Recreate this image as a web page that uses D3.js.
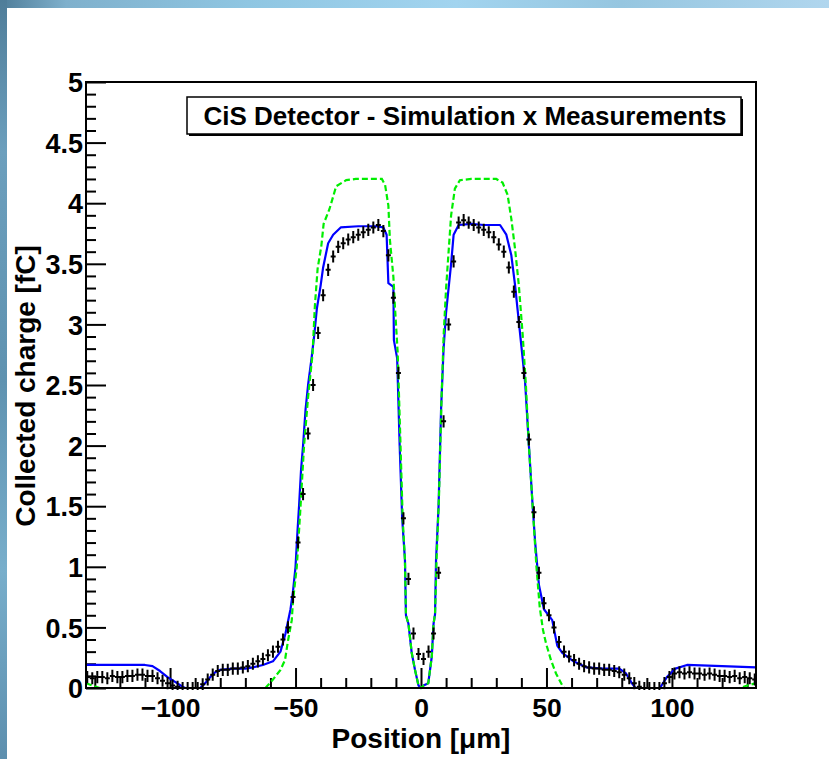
<!DOCTYPE html>
<html>
<head>
<meta charset="utf-8">
<script src="https://cdn.jsdelivr.net/npm/d3@7"></script>
<style>
  html, body { margin: 0; padding: 0; background: #fff; }
  svg { display: block; }
</style>
</head>
<body>
<svg id="chart" width="829" height="759"></svg>
<script>
// ---------------- DATA ----------------
const titleText = "CiS Detector - Simulation x Measurements";
const xTitle = "Position [\u03bcm]";
const yTitle = "Collected charge [fC]";
const xDomain = [-133.5, 133.5];
const yDomain = [0, 5];
const xTickLabels = [-100, -50, 0, 50, 100];
const yTickLabels = [0, 0.5, 1, 1.5, 2, 2.5, 3, 3.5, 4, 4.5, 5];

// Simulation (blue, solid)
const blueX = [-133.5,-120,-110,-107,-104,-101,-98,-95,-94,-88,-86,-84,-82,-80,-75,-70,-67,-63,-59,-56,-54,-52,-51,-50,-49.2,-48.6,-47.8,-47,-46,-45,-43.5,-42.5,-41.5,-40,-39,-37,-35,-32,-25,-18,-15,-13.7,-13,-11,-10.8,-9.5,-8.5,-7.5,-6.4,-6,-5,-3.7,-2.4,-1,0,1,2.9,4.3,5,5.6,6,7,8,9,10,11,12,13,15,20,25,31.5,34,36,37.5,38.5,40,41.5,43,44.5,45.5,47,49,52.3,54.3,56.3,60.8,66,72.5,79,81.7,84,85.5,95.2,98,101.4,106,120,133.5];
const blueY = [0.19,0.19,0.19,0.18,0.14,0.09,0.05,0.01,0,0,0.04,0.09,0.13,0.15,0.16,0.16,0.17,0.19,0.22,0.3,0.45,0.65,0.8,1.0,1.3,1.5,1.8,2.0,2.3,2.5,2.74,2.92,3.13,3.32,3.47,3.67,3.74,3.8,3.81,3.81,3.8,3.74,3.34,3.31,2.87,2.72,2.0,1.4,1.06,0.6,0.53,0.29,0.15,0.02,0,0.02,0.04,0.26,0.53,0.61,1.06,1.5,2.3,2.8,3.1,3.3,3.5,3.74,3.82,3.83,3.82,3.82,3.74,3.57,3.32,3.12,2.82,2.52,2.0,1.5,1.2,0.85,0.65,0.56,0.35,0.29,0.22,0.17,0.16,0.16,0.12,0.04,0,0,0.09,0.16,0.19,0.18,0.17];

// Simulation (green, dashed)
const greenX = [-133.5,-131,-128,-62,-59,-56,-54.2,-53,-51.5,-51,-49.5,-48,-46.6,-45,-43.2,-42.3,-41.2,-39.7,-38.8,-36.5,-33.8,-29.8,-26,-18,-15.6,-14.3,-13,-12.4,-11,-10.4,-9.3,-8.3,-7.3,-6.4,-6,-5,-3.7,-2.4,-1,0,1,2.9,4.3,5,5.6,6.2,7.2,8.2,9,10,11,12,13.5,15.5,20,30,32.5,34.5,36,37.5,39,40.5,41.8,43,44.5,46,47.3,48.6,49.8,51.8,53.8,56.6,57,127,130,133.5];
const greenY = [0.04,0.02,0,0,0.07,0.15,0.23,0.39,0.56,0.72,1.0,1.5,2.0,2.4,2.76,3.15,3.46,3.65,3.83,3.95,4.14,4.19,4.2,4.2,4.2,4.15,3.98,3.7,3.39,3.15,2.77,2.1,1.4,1.06,0.6,0.53,0.29,0.15,0.02,0,0.02,0.04,0.26,0.53,0.61,1.06,1.6,2.4,2.9,3.3,3.6,3.9,4.12,4.19,4.2,4.2,4.17,4.07,3.87,3.62,3.32,2.92,2.5,2.0,1.5,1.0,0.67,0.48,0.37,0.23,0.12,0.01,0,0,0.02,0.04];

// Measurement (black points with error bars)
const measX = [-133,-131,-129,-127,-125,-123,-121,-119,-117,-115,-113,-111,-109,-107,-105,-103,-101,-99,-97,-95,-93,-91,-89,-87,-85,-83,-81,-79,-77,-75,-73,-71,-69,-67,-65,-63,-61,-59,-57,-55,-53,-51,-49,-47,-45,-43,-41,-39,-37,-35,-33,-31,-29,-27,-25,-23,-21,-19,-17,-15,-13,-11,-9,-7,-5,-3,-1,1,3,5,7,9,11,13,15,17,19,21,23,25,27,29,31,33,35,37,39,41,43,45,47,49,51,53,55,57,59,61,63,65,67,69,71,73,75,77,79,81,83,85,87,89,91,93,95,97,99,101,103,105,107,109,111,113,115,117,119,121,123,125,127,129,131,133];
const measY = [0.09,0.08,0.09,0.09,0.08,0.1,0.09,0.09,0.1,0.1,0.11,0.11,0.1,0.1,0.08,0.06,0.04,0.02,0.01,0,0,0,0,0.03,0.07,0.11,0.14,0.15,0.15,0.16,0.16,0.17,0.18,0.2,0.22,0.24,0.27,0.3,0.34,0.4,0.5,0.75,1.2,1.6,2.1,2.5,2.93,3.24,3.45,3.56,3.64,3.67,3.7,3.72,3.74,3.76,3.78,3.8,3.82,3.77,3.57,3.22,2.6,1.4,0.9,0.45,0.28,0.24,0.3,0.45,0.95,2.2,3.0,3.52,3.84,3.86,3.84,3.82,3.8,3.78,3.76,3.72,3.66,3.6,3.47,3.27,3.02,2.6,2.05,1.45,0.95,0.7,0.6,0.5,0.38,0.3,0.26,0.23,0.2,0.18,0.17,0.16,0.16,0.15,0.15,0.14,0.13,0.11,0.08,0.04,0.01,0,0,0,0,0.04,0.09,0.12,0.13,0.12,0.13,0.12,0.12,0.11,0.12,0.11,0.1,0.1,0.09,0.1,0.08,0.09,0.08,0.07];
const measErrY = 0.05;
const measErrX = 1;

// ---------------- LAYOUT ----------------
const W = 829, H = 759;
const plot = { left: 86, right: 756, top: 82, bottom: 688 };
const svg = d3.select("#chart");
const FONT = "'Liberation Sans', Arial, Helvetica, sans-serif";

// background with bluish slide edges
const defs = svg.append("defs");
const gTop = defs.append("linearGradient").attr("id", "gTop").attr("x1", "0").attr("x2", "1").attr("y1", "0").attr("y2", "0");
[["0", "#4f7d99"], ["0.08", "#7fb0cc"], ["0.3", "#8fc6e2"], ["0.55", "#a2d4ef"], ["0.75", "#96c6e0"], ["1", "#b0d6ee"]]
  .forEach(([o, c]) => gTop.append("stop").attr("offset", o).attr("stop-color", c));
const gLeft = defs.append("linearGradient").attr("id", "gLeft").attr("x1", "0").attr("x2", "0").attr("y1", "0").attr("y2", "1");
[["0", "#4f7d99"], ["0.2", "#6c9fbd"], ["0.5", "#5f92b0"], ["0.75", "#78aecb"], ["1", "#5d8fae"]]
  .forEach(([o, c]) => gLeft.append("stop").attr("offset", o).attr("stop-color", c));
svg.append("rect").attr("width", W).attr("height", H).attr("fill", "#ffffff");
svg.append("rect").attr("x", 0).attr("y", 0).attr("width", W).attr("height", 8).attr("fill", "url(#gTop)");
svg.append("rect").attr("x", 0).attr("y", 0).attr("width", 7).attr("height", H).attr("fill", "url(#gLeft)");

defs.append("clipPath").attr("id", "clip").append("rect")
  .attr("x", plot.left).attr("y", plot.top - 2)
  .attr("width", plot.right - plot.left).attr("height", plot.bottom - plot.top + 4);

const x = d3.scaleLinear().domain(xDomain).range([plot.left, plot.right]);
const y = d3.scaleLinear().domain(yDomain).range([plot.bottom, plot.top]);

// ---------------- AXES ----------------
// x axis: minor ticks every 10, major every 50
const xMinor = d3.range(-130, 131, 10).filter(v => !xTickLabels.includes(v));
const xAxisMinor = d3.axisBottom(x).tickValues(xMinor).tickSize(-10).tickFormat("");
const xAxisMajor = d3.axisBottom(x).tickValues(xTickLabels).tickSize(-20).tickFormat(d3.format("d"));
const gxm = svg.append("g").attr("transform", `translate(0,${plot.bottom})`).call(xAxisMinor);
const gx = svg.append("g").attr("transform", `translate(0,${plot.bottom})`).call(xAxisMajor);
[gxm, gx].forEach(g => {
  g.select(".domain").remove();
  g.selectAll(".tick line").attr("stroke", "#000").attr("stroke-width", 2);
});
gx.selectAll(".tick text")
  .attr("font-family", FONT).attr("font-weight", "bold").attr("font-size", 26.5).attr("fill", "#000")
  .attr("y", 10).attr("dy", "0.71em");

// y axis: minor every 0.1, major every 0.5
const yMinor = d3.range(0, 50).map(i => i / 10).filter(v => Math.abs(v * 2 - Math.round(v * 2)) > 1e-6);
const yAxisMinor = d3.axisLeft(y).tickValues(yMinor).tickSize(-10).tickFormat("");
const yAxisMajor = d3.axisLeft(y).tickValues(yTickLabels).tickSize(-20).tickFormat(d => d3.format("")(d));
const gym = svg.append("g").attr("transform", `translate(${plot.left},0)`).call(yAxisMinor);
const gy = svg.append("g").attr("transform", `translate(${plot.left},0)`).call(yAxisMajor);
[gym, gy].forEach(g => {
  g.select(".domain").remove();
  g.selectAll(".tick line").attr("stroke", "#000").attr("stroke-width", 2);
});
gy.selectAll(".tick text")
  .attr("font-family", FONT).attr("font-weight", "bold").attr("font-size", 27).attr("fill", "#000")
  .attr("x", -3).attr("dy", "0.36em");

// ---------------- SERIES ----------------
const plotG = svg.append("g").attr("clip-path", "url(#clip)");

const blueData = blueX.map((v, i) => [v, blueY[i]]);
const greenData = greenX.map((v, i) => [v, greenY[i]]);
const line = d3.line().x(d => x(d[0])).y(d => y(d[1])).curve(d3.curveLinear);

plotG.append("path").datum(blueData).attr("d", line)
  .attr("fill", "none").attr("stroke", "#0000ff").attr("stroke-width", 2.2).attr("stroke-linejoin", "round");

plotG.append("path").datum(greenData).attr("d", line)
  .attr("fill", "none").attr("stroke", "#00ee00").attr("stroke-width", 2.2).attr("stroke-dasharray", "6,3");

// measurement crosses
const errPath = d3.path();
measX.forEach((xv, i) => {
  const yv = measY[i];
  errPath.moveTo(x(xv - measErrX), y(yv));
  errPath.lineTo(x(xv + measErrX), y(yv));
  errPath.moveTo(x(xv), y(yv - measErrY));
  errPath.lineTo(x(xv), y(yv + measErrY));
});
plotG.append("path").attr("d", errPath.toString())
  .attr("fill", "none").attr("stroke", "#000").attr("stroke-width", 2);

// ---------------- FRAME ----------------
svg.append("rect")
  .attr("x", plot.left).attr("y", plot.top)
  .attr("width", plot.right - plot.left).attr("height", plot.bottom - plot.top)
  .attr("fill", "none").attr("stroke", "#000").attr("stroke-width", 2);

// ---------------- LEGEND / TITLE BOX ----------------
const box = { x: 187, y: 97, w: 554, h: 37 };
svg.append("rect").attr("x", box.x + 2).attr("y", box.y + 2).attr("width", box.w).attr("height", box.h)
  .attr("fill", "#000");
svg.append("rect").attr("x", box.x).attr("y", box.y).attr("width", box.w).attr("height", box.h)
  .attr("fill", "#fff").attr("stroke", "#000").attr("stroke-width", 1.5);
svg.append("text").attr("x", box.x + box.w / 2 + 1).attr("y", box.y + box.h / 2 + 9)
  .attr("text-anchor", "middle")
  .attr("font-family", FONT).attr("font-weight", "bold").attr("font-size", 26)
  .text(titleText);

// ---------------- AXIS TITLES ----------------
svg.append("text").attr("x", (plot.left + plot.right) / 2).attr("y", 748)
  .attr("text-anchor", "middle")
  .attr("font-family", FONT).attr("font-weight", "bold").attr("font-size", 28)
  .text(xTitle);

svg.append("text").attr("transform", `translate(35,386) rotate(-90)`)
  .attr("text-anchor", "middle")
  .attr("font-family", FONT).attr("font-weight", "bold").attr("font-size", 28)
  .text(yTitle);
</script>
</body>
</html>
